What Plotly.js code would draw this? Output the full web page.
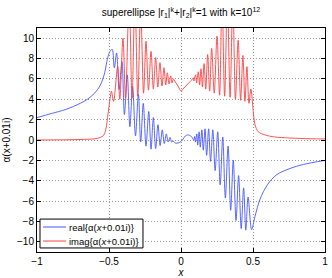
<!DOCTYPE html>
<html>
<head>
<meta charset="utf-8">
<script src="https://cdn.plot.ly/plotly-3.0.1.min.js"></script>
<style>html,body{margin:0;padding:0;background:#fff;}#chart{width:332px;height:278px;}</style>
</head>
<body>
<div id="chart"></div>
<script>
// real part: x positions and values
var realX = [-1, -0.9, -0.8, -0.7, -0.65, -0.6, -0.56, -0.53, -0.515, -0.5, -0.485, -0.477,
  -0.463, -0.447, -0.43, -0.41, -0.393, -0.373, -0.355, -0.336, -0.316, -0.296, -0.28, -0.262,
  -0.243, -0.224, -0.208, -0.192, -0.176, -0.16, -0.145, -0.13, -0.116, -0.102, -0.089, -0.076,
  -0.065, -0.055, -0.04, -0.02, 0, 0.015, 0.03, 0.045, 0.06, 0.075, 0.088, 0.095, 0.1, 0.11,
  0.116, 0.126, 0.134, 0.145, 0.155, 0.167, 0.178, 0.192, 0.205, 0.221, 0.237, 0.255, 0.272,
  0.29, 0.308, 0.327, 0.345, 0.363, 0.382, 0.4, 0.418, 0.435, 0.45, 0.466, 0.49, 0.514, 0.549,
  0.6, 0.665, 0.757, 0.85, 1];
var realY = [2.2, 2.6, 3.0, 3.6, 4.0, 4.6, 5.4, 6.6, 7.7, 8.5, 8.85, 8.9,
  7.1, 8.55, 4.95, 7.7, 2.5, 6.4, 1.3, 5.3, 0.4, 4.5, -0.2, 3.6,
  -0.6, 2.8, -0.9, 2.2, -0.85, 1.5, -0.55, 1.0, -0.35, 0.6, -0.2, 0.25,
  -0.2, -0.1, -0.3, -0.3, -0.15, 0.1, 0.4, 0.5, 0.45, 0.3, 0.0, 0.35, -0.2, 0.6,
  -0.5, 0.8, -0.7, 1.0, -1.0, 1.1, -1.5, 1.1, -2.1, 1.0, -3.0, 0.8, -4.4,
  0.3, -5.7, -0.6, -6.9, -2.0, -7.9, -3.5, -8.7, -4.7, -8.85, -5.6, -8.8, -7.5, -5.8,
  -4.4, -3.4, -2.8, -2.4, -2.0];

// imaginary part
var imagX = [-1, -0.8, -0.7, -0.6, -0.56, -0.535, -0.52, -0.51, -0.5, -0.49, -0.483, -0.468,
  -0.44, -0.425, -0.403, -0.385, -0.36, -0.34, -0.32, -0.3, -0.28, -0.26, -0.243, -0.226,
  -0.208, -0.192, -0.176, -0.161, -0.146, -0.132, -0.118, -0.106, -0.095, -0.083, -0.072,
  -0.062, -0.053, -0.04, -0.025, -0.01, 0, 0.02, 0.04, 0.06, 0.075, 0.085, 0.09, 0.096, 0.102,
  0.108, 0.12, 0.129, 0.139, 0.149, 0.16, 0.172, 0.185, 0.199, 0.213, 0.231, 0.25, 0.268,
  0.285, 0.303, 0.322, 0.341, 0.36, 0.378, 0.397, 0.414, 0.43, 0.444, 0.458, 0.472, 0.485,
  0.502, 0.514, 0.537, 0.583, 0.65, 0.75, 0.9, 1];
var imagY = [0, 0.02, 0.05, 0.12, 0.25, 0.5, 1.2, 2.2, 3.3, 4.3, 4.8, 3.8,
  7.2, 4.0, 10.0, 4.1, 14, 4.1, 14, 4.3, 13, 4.6, 9.7, 4.9,
  8.7, 5.0, 8.1, 5.2, 7.6, 5.3, 7.1, 5.4, 6.6, 5.5, 6.3,
  5.6, 6.0, 5.7, 5.4, 5.0, 4.8, 5.1, 5.4, 5.7, 5.9, 6.1, 5.8, 6.2, 6.4,
  5.6, 6.7, 5.4, 7.0, 5.2, 7.5, 5.0, 8.4, 4.8, 9.0, 4.6, 10.2, 4.4,
  14, 4.3, 14, 4.2, 14, 4.0, 9.8, 3.9, 8.3, 3.8, 7.2, 3.6, 5.0,
  2.8, 1.5, 0.8, 0.5, 0.3, 0.2, 0.12, 0.1];

var seriesNames = ['real{\u03b1(<i>x</i>+0.01i)}', 'imag{\u03b1(<i>x</i>+0.01i)}'];
var seriesColors = ['#4657ff', '#ff4040'];

var xTicks = [-1, -0.5, 0, 0.5, 1];
var xTickText = ['\u22121', '\u22120.5', '0', '0.5', '1'];
var yTicks = [-10, -8, -6, -4, -2, 0, 2, 4, 6, 8, 10];
var yTickText = ['\u221210', '\u22128', '\u22126', '\u22124', '\u22122', '0', '2', '4', '6', '8', '10'];

var font = 'Liberation Sans, Arial, Helvetica, sans-serif';

var traces = [
  {x: realX, y: realY, type: 'scatter', mode: 'lines', name: seriesNames[0], showlegend: false,
   line: {color: seriesColors[0], width: 0.9, shape: 'spline', smoothing: 0.9}},
  {x: imagX, y: imagY, type: 'scatter', mode: 'lines', name: seriesNames[1], showlegend: false,
   line: {color: seriesColors[1], width: 0.9, shape: 'spline', smoothing: 0.9}}
];

var axisCommon = {
  showline: true, linecolor: '#000', linewidth: 1, mirror: 'ticks',
  ticks: 'inside', ticklen: 4, tickcolor: '#000',
  showgrid: true, gridcolor: '#9a9a9a', griddash: '1px,2px', gridwidth: 1,
  zeroline: false, tickfont: {family: font, size: 10, color: '#000'}
};

// legend box drawn in paper coordinates (lower-left corner of the axes)
var lg = {x0: 0.0104, x1: 0.368, y0: 0.018, y1: 0.147, lx0: 0.021, lx1: 0.101, tx: 0.104, rows: [0.1116, 0.049]};
var shapes = [{type: 'rect', xref: 'paper', yref: 'paper', x0: lg.x0, x1: lg.x1, y0: lg.y0, y1: lg.y1,
               line: {color: '#000', width: 1}, fillcolor: '#fff', layer: 'above'}];
var annotations = [];
for (var i = 0; i < seriesNames.length; i++) {
  shapes.push({type: 'line', xref: 'paper', yref: 'paper', x0: lg.lx0, x1: lg.lx1, y0: lg.rows[i], y1: lg.rows[i],
               line: {color: seriesColors[i], width: 1}, layer: 'above'});
  annotations.push({xref: 'paper', yref: 'paper', x: lg.tx, y: lg.rows[i], xanchor: 'left', yanchor: 'middle',
                    text: seriesNames[i], showarrow: false, font: {family: font, size: 9.5, color: '#000'}});
}

var layout = {
  width: 332, height: 278,
  margin: {l: 37, r: 7, t: 28, b: 26},
  paper_bgcolor: '#fff', plot_bgcolor: '#fff',
  showlegend: false,
  title: {text: 'superellipse |r<sub>1</sub>|<sup>k</sup>+|r<sub>2</sub>|<sup>k</sup>=1 with k=10<sup>12</sup>',
          font: {family: font, size: 10, color: '#000'},
          x: 0.5, xref: 'paper', xanchor: 'center', y: 0.955, yref: 'container', yanchor: 'middle'},
  xaxis: Object.assign({}, axisCommon, {
    range: [-1, 1], tickvals: xTicks, ticktext: xTickText,
    title: {text: '<i>x</i>', font: {family: font, size: 10, color: '#000'}, standoff: 2}
  }),
  yaxis: Object.assign({}, axisCommon, {
    range: [-11, 11], tickvals: yTicks, ticktext: yTickText,
    title: {text: '\u03b1(x+0.01i)', font: {family: font, size: 10, color: '#000'}, standoff: 4}
  }),
  shapes: shapes,
  annotations: annotations
};

Plotly.newPlot('chart', traces, layout, {staticPlot: true, displayModeBar: false});
</script>
</body>
</html>
